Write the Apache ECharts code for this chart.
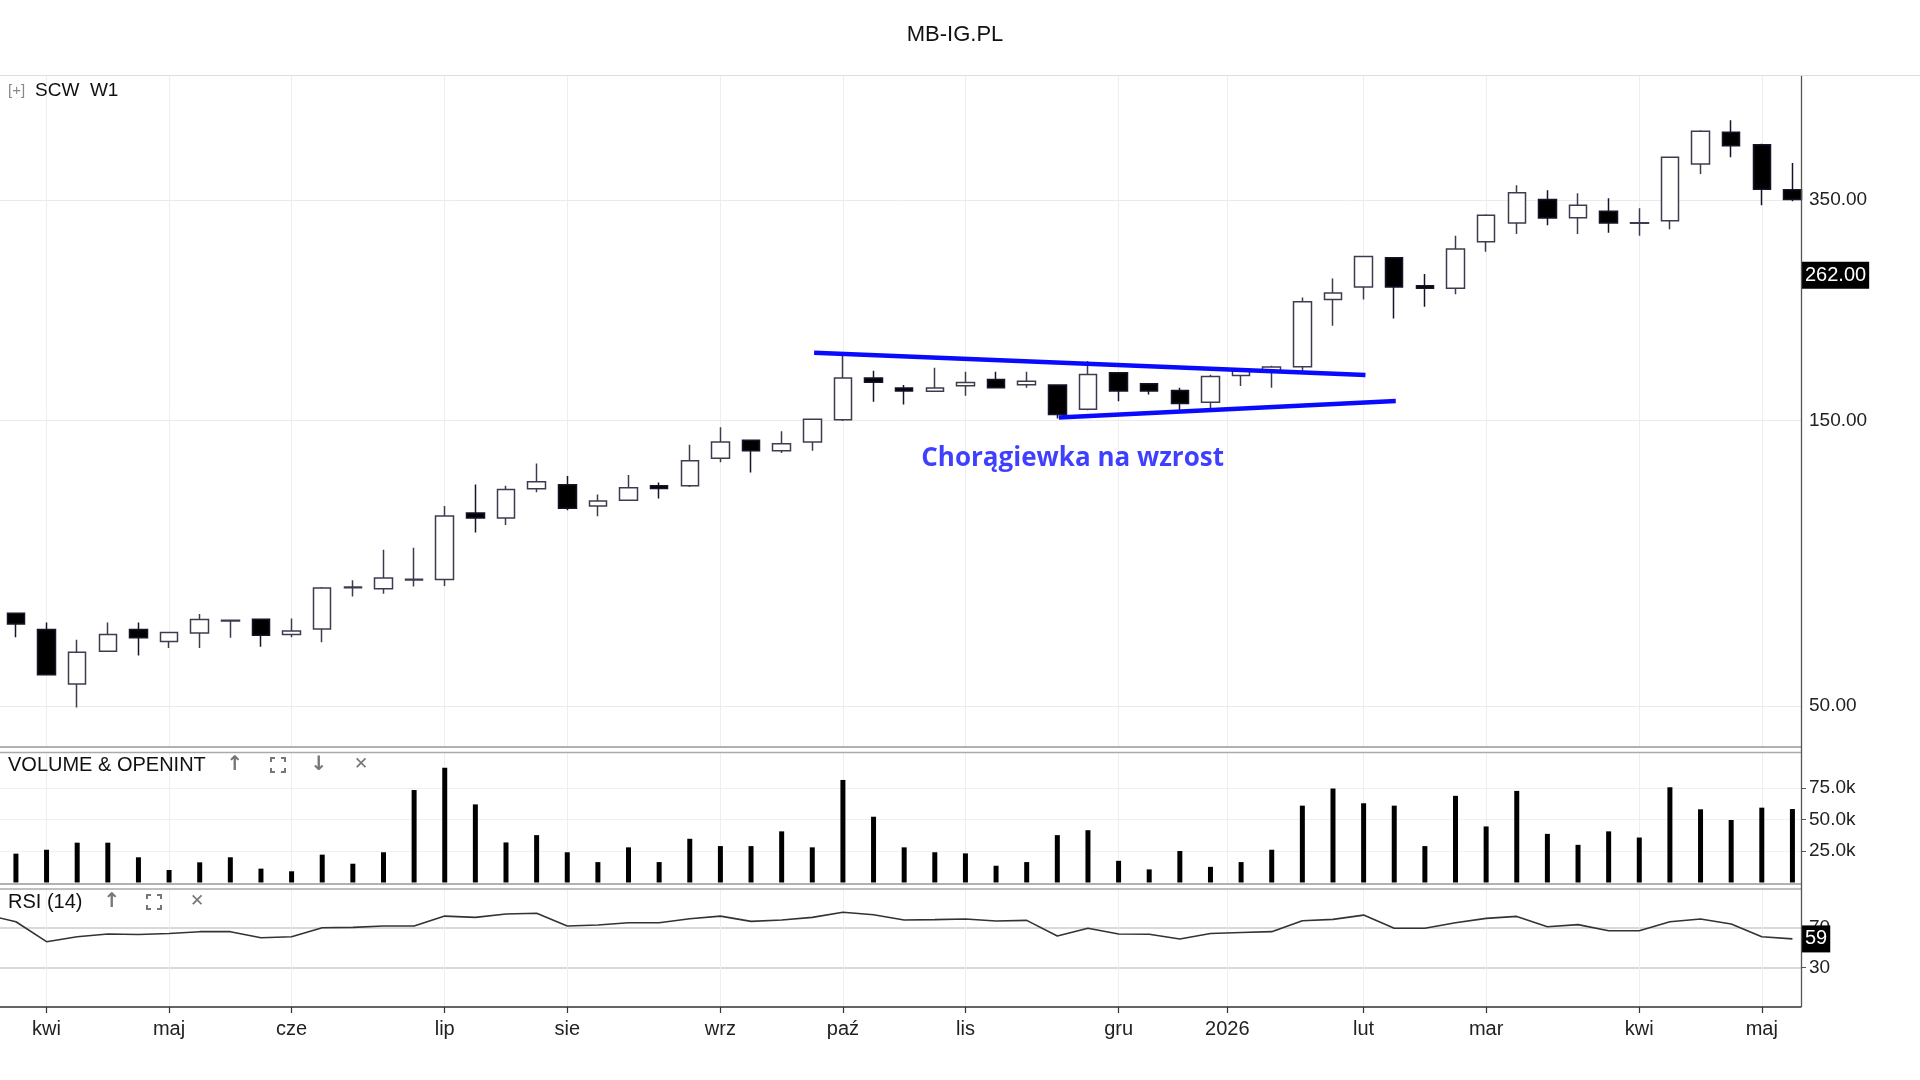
<!DOCTYPE html>
<html><head><meta charset="utf-8">
<script src="https://cdn.jsdelivr.net/npm/echarts@6/dist/echarts.min.js"></script>
<style>html,body{margin:0;padding:0;background:#fff}#c{width:1920px;height:1080px}</style>
</head><body><div id="c"></div><script>
// ---- data (weekly bars, MB-IG.PL / SCW W1) ----
const weeks = ['2025-03-24','2025-03-31','2025-04-07','2025-04-14','2025-04-21','2025-04-28','2025-05-05','2025-05-12','2025-05-19','2025-05-26',
'2025-06-02','2025-06-09','2025-06-16','2025-06-23','2025-06-30','2025-07-07','2025-07-14','2025-07-21','2025-07-28','2025-08-04',
'2025-08-11','2025-08-18','2025-08-25','2025-09-01','2025-09-08','2025-09-15','2025-09-22','2025-09-29','2025-10-06','2025-10-13',
'2025-10-20','2025-10-27','2025-11-03','2025-11-10','2025-11-17','2025-11-24','2025-12-01','2025-12-08','2025-12-15','2025-12-22',
'2025-12-29','2026-01-05','2026-01-12','2026-01-19','2026-01-26','2026-02-02','2026-02-09','2026-02-16','2026-02-23','2026-03-02',
'2026-03-09','2026-03-16','2026-03-23','2026-03-30','2026-04-06','2026-04-13','2026-04-20','2026-04-27','2026-05-04'];
const opens  = [71.4,67.1,54.4,61.7,67.1,64.1,66.2,69.3,69.8,65.8, 67.2,78.8,78.5,81.2,81.3,105.0,103.0,115.3,117.1,107.9,
 110.3,116.6,116.6,129.6,138.9,133.4,138.0,150.4,176.6,169.8, 167.8,171.3,175.5,172.0,171.8,156.6,180.1,172.7,168.3,160.8,
 178.2,180.5,184.3,238.8,250.6,280.3,251.8,249.4,298.1,320.4, 350.6,327.0,335.1,320.0,323.2,402.1,454.3,433.1,364.3];
const highs  = [71.6,68.9,64.5,68.9,68.9,66.3,71.2,69.6,69.8,70.0, 79.0,81.1,91.2,91.9,107.9,117.2,116.6,127.0,121.1,112.8,
 121.6,118.1,136.6,146.0,139.3,143.9,150.8,193.3,181.5,171.8, 183.7,180.8,180.8,180.8,172.0,188.4,180.5,173.0,170.0,178.7,
 181.8,185.1,240.5,258.9,282.0,280.8,263.3,305.1,331.5,370.4, 363.3,359.1,352.3,339.0,413.0,457.9,475.8,434.8,403.6];
const lows   = [65.1,56.4,49.7,61.7,60.7,62.5,62.5,65.0,62.8,65.1, 63.9,76.2,77.0,79.2,79.3,97.4,100.3,113.7,106.1,103.7,
 110.3,111.0,116.1,127.7,122.7,132.3,133.4,149.6,161.1,159.4, 167.6,164.8,169.8,170.0,151.0,156.0,161.5,165.7,155.0,157.0,
 171.2,170.0,181.6,215.8,238.8,222.0,232.1,243.7,286.8,307.1, 317.6,307.1,308.6,305.1,312.7,386.9,412.6,343.0,348.3];
const closes = [68.5,56.4,61.5,65.8,65.0,66.3,69.7,69.5,65.6,66.7, 78.7,79.0,81.8,81.4,103.8,103.0,115.0,118.4,107.0,110.0,
 115.7,115.4,128.4,138.0,133.4,137.1,150.6,176.6,173.7,167.9, 169.8,173.5,170.0,174.3,153.4,179.0,167.9,167.9,160.0,177.6,
 181.3,184.1,236.8,244.9,281.8,250.4,249.4,289.8,330.0,359.9, 326.6,343.0,320.4,320.6,412.6,456.1,431.4,364.8,350.9];
const volumes = [22900,26000,31600,31600,20000,9900,16000,20000,11000,8900, 22100,14900,24000,73400,91100,62000,31800,37600,24000,16200,
 27900,16200,34700,28900,28900,40600,27900,81400,52200,27900, 24000,23100,13300,16200,37600,41500,17200,10400,25000,12400,
 16200,26000,61000,74600,62900,61000,28900,68800,44500,72700, 38600,29900,40600,35700,75600,58100,49600,59400,58300];
const rsiBefore = 83.6; // RSI of the week preceding the first visible bar
const rsiValues = [76.3,56.2,61.2,64.0,63.5,64.4,66.3,66.3,60.2,61.2, 70.3,70.6,72.0,72.0,82.0,80.7,84.1,84.8,72.0,73.0,
 75.3,75.3,79.4,82.0,76.7,78.0,80.7,85.8,83.4,78.0, 78.4,79.0,77.0,77.7,61.9,69.7,64.0,63.7,59.0,64.4,
 65.4,66.3,77.3,78.7,83.0,69.7,69.7,75.3,79.7,81.7, 71.3,73.4,67.3,67.3,76.3,79.0,74.0,61.2,59.0];
const monthTickPos = [1,5,9,14,18,23,27,31,36,39.55,44,48,53,57];
const monthTickLabels = ['kwi','maj','cze','lip','sie','wrz','paź','lis','gru','2026','lut','mar','kwi','maj'];
const priceTicks = [50,150,350];
const lastPriceTag = 262;
const volumeTicks = [25000,50000,75000];
const rsiTicks = [30,70];
const flagUpper = [[26.06,194.5],[44.06,178.5]];
const flagLower = [[34.05,151.6],[45.05,161.6]];
const flagLabel = {text:'Chorągiewka na wzrost', at:[34.5,129.6]};

// ---- chart ----
const FONT = '"Liberation Sans", Arial, sans-serif';
const X_MIN = -0.52, X_MAX = 58.28;
const chart = echarts.init(document.getElementById('c'), null, {renderer:'canvas'});

function nearestLabel(v){let k=0,b=1e9;monthTickPos.forEach((p,j)=>{const d=Math.abs(p-v);if(d<b){b=d;k=j;}});return monthTickLabels[k];}
function xAxisFor(gi, show){
  return {type:'value', gridIndex:gi, min:X_MIN, max:X_MAX,
    axisLine:{show:show, onZero:false, lineStyle:{color:'#333', width:1.5}},
    axisTick:{show:show, customValues:monthTickPos, length:6, lineStyle:{color:'#333', width:1.2}},
    axisLabel:{show:show, customValues:monthTickPos, formatter:nearestLabel, fontSize:20, color:'#222', margin:12, fontFamily:FONT},
    splitLine:{show:true, lineStyle:{color:'#eeeeee', width:1}}};
}
const G = [
  {left:0, top:76, width:1801, height:671},
  {left:0, top:753, width:1801, height:131},
  {left:0, top:889, width:1801, height:118}
];
function hline(y,color,w){return {type:'line', shape:{x1:0,y1:y,x2:1801,y2:y}, style:{stroke:color, lineWidth:w}, z:50};}
function bracketIcon(cx,cy){
  const s=7, c=4, out=[];
  [[-1,-1],[1,-1],[-1,1],[1,1]].forEach(([dx,dy])=>{
    out.push({type:'polyline', shape:{points:[[cx+dx*s, cy+dy*s-dy*c],[cx+dx*s, cy+dy*s],[cx+dx*s-dx*c, cy+dy*s]]}, style:{stroke:'#777', lineWidth:2, fill:null}, z:50});
  });
  return out;
}
function txt(x,y,t,size,color,extra){return Object.assign({type:'text', x:x, y:y, style:{text:t, fontSize:size, fill:color, fontFamily:FONT, textVerticalAlign:'middle'}, z:50}, extra||{});}
function icon(x,y,t,size,bold){return {type:'text', x:x, y:y, style:{text:t, fontSize:size, fill:'#777', fontFamily:'"DejaVu Sans", sans-serif', fontWeight:bold?'bold':'normal', textAlign:'center', textVerticalAlign:'middle'}, z:50};}

const graphics = [
  {type:'text', x:955, y:35, style:{text:'MB-IG.PL', fontSize:22, fill:'#111', fontFamily:FONT, textAlign:'center', textVerticalAlign:'middle'}, z:50},
  {type:'line', shape:{x1:0,y1:75.5,x2:1920,y2:75.5}, style:{stroke:'#dddddd', lineWidth:1.2}, z:50},
  txt(8,91,'[+]',15,'#888'),
  txt(35,91,'SCW  W1',19,'#111'),
  hline(747,'#666',1.2), hline(752.5,'#aaa',1.5),
  hline(884,'#666',1.2), hline(889,'#aaa',1.5),
  {type:'line', shape:{x1:1801.5,y1:76,x2:1801.5,y2:1007}, style:{stroke:'#555', lineWidth:1.3}, z:50},
  txt(8,765,'VOLUME & OPENINT',20,'#111'),
  icon(235,765,'↑',20,true), ...bracketIcon(278,765), icon(319,765,'↓',20,true), icon(361,765,'✕',17,false),
  txt(8,902,'RSI (14)',20,'#111'),
  icon(112,902,'↑',20,true), ...bracketIcon(154,902), icon(197,902,'✕',17,false)
];

const hidden = {color:'rgba(0,0,0,0)', width:0};
const tagLabel = (text)=>({show:true, position:'end', distance:1, backgroundColor:'#000', color:'#fff', fontSize:20, fontFamily:FONT, padding:[4,3,3,3], formatter:text});

const option = {
  animation:false,
  backgroundColor:'#fff',
  grid:G,
  xAxis:[xAxisFor(0,false), xAxisFor(1,false), xAxisFor(2,true)],
  yAxis:[
    {type:'log', logBase:10, gridIndex:0, min:42.7, max:564, position:'right',
     axisLine:{show:false, onZero:false}, axisTick:{show:false}, axisLabel:{show:false}, splitLine:{show:false}},
    {type:'value', gridIndex:1, min:-1200, max:102800, position:'right',
     axisLine:{show:false, onZero:false}, axisTick:{show:true, customValues:volumeTicks, length:5, lineStyle:{color:'#555'}},
     axisLabel:{customValues:volumeTicks, formatter:v=>(v/1000).toFixed(1)+'k', fontSize:19, color:'#222', margin:8, fontFamily:FONT},
     splitLine:{show:true, lineStyle:{color:'#f0f0f0', width:1}}},
    {type:'value', gridIndex:2, min:-9.6, max:109.3, position:'right',
     axisLine:{show:false, onZero:false}, axisTick:{show:true, customValues:rsiTicks, length:5, lineStyle:{color:'#555'}},
     axisLabel:{customValues:rsiTicks, fontSize:19, color:'#222', margin:8, fontFamily:FONT},
     splitLine:{show:true, lineStyle:{color:'#cccccc', width:1.5}}}
  ],
  graphic:graphics,
  series:[
    {type:'candlestick', name:'SCW', xAxisIndex:0, yAxisIndex:0, z:3, barWidth:18,
     data:weeks.map((d,i)=>[i, opens[i], closes[i], lows[i], highs[i]]),
     itemStyle:{color:'#ffffff', color0:'#000000', borderColor:'#3c3c50', borderColor0:'#14142a', borderWidth:1.5},
     markLine:{silent:true, symbol:['none','none'], z:1, animation:false,
       lineStyle:{color:'#eaeaea', width:1, type:'solid'},
       label:{show:true, position:'end', distance:8, formatter:p=>Number(p.value).toFixed(2), fontSize:19, color:'#222', fontFamily:FONT},
       data:priceTicks.map(v=>({yAxis:v}))}},
    {type:'line', name:'last', xAxisIndex:0, yAxisIndex:0, z:6, data:[], symbol:'none',
     markLine:{silent:true, symbol:['none','none'], z:6, animation:false, lineStyle:hidden,
       label:tagLabel(lastPriceTag.toFixed(2)), data:[{yAxis:lastPriceTag}]}},
    {type:'line', name:'flag-top', xAxisIndex:0, yAxisIndex:0, z:4, data:flagUpper, symbol:'none', lineStyle:{color:'#0a0aff', width:4.5}},
    {type:'line', name:'flag-bottom', xAxisIndex:0, yAxisIndex:0, z:4, data:flagLower, symbol:'none', lineStyle:{color:'#0a0aff', width:4.5}},
    {type:'scatter', name:'note', xAxisIndex:0, yAxisIndex:0, z:4, data:[flagLabel.at], symbolSize:1, itemStyle:{color:'rgba(0,0,0,0)'},
     label:{show:true, position:'inside', formatter:flagLabel.text, fontSize:26, fontWeight:'bold', color:'#0f0fff', fontFamily:'"Open Sans", sans-serif'}},
    {type:'bar', name:'Volume', xAxisIndex:1, yAxisIndex:1, barWidth:5, itemStyle:{color:'#000'},
     data:volumes.map((v,i)=>[i,v])},
    {type:'line', name:'RSI', xAxisIndex:2, yAxisIndex:2, symbol:'none', clip:true,
     lineStyle:{color:'#333', width:1.6},
     data:[[-1, rsiBefore], ...rsiValues.map((v,i)=>[i,v])],
     markLine:{silent:true, symbol:['none','none'], z:6, animation:false, lineStyle:hidden,
       label:tagLabel(String(Math.round(rsiValues[rsiValues.length-1]))),
       data:[{yAxis:rsiValues[rsiValues.length-1]}]}}
  ]
};
chart.setOption(option);
</script></body></html>
